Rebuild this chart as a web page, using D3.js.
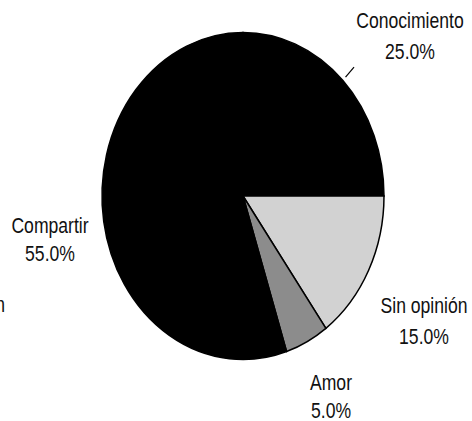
<!DOCTYPE html>
<html>
<head>
<meta charset="utf-8">
<script src="https://cdn.jsdelivr.net/npm/d3@7"></script>
<style>
  body { margin: 0; background: #fff; }
  text { font-family: "Liberation Sans", Arial, sans-serif; font-size: 22px; fill: #111; }
</style>
</head>
<body>
<svg width="472" height="421"></svg>
<script>
// data
var categories = ["Conocimiento", "Sin opinión", "Amor", "Compartir"];
var values = [25.0, 15.0, 5.0, 55.0];
var fills = ["#000", "#d2d2d2", "#8c8c8c", "#000"];

// label anchors: centre x, baseline of name, baseline of percent
var labelPos = [[410, 28, 59], [424, 313, 344], [331, 390, 418], [50, 233, 261]];

var drawChart = function()
{
  var svg = d3.select("svg");
  var cx = 243, cy = 196;
  var radius = 141;
  var squash = 1.16; /* scan is taller than wide */
  var narrow = "scale(0.8,1.03)";  /* Arial Narrow look */

  var pie = d3.pie().sort(null).value(function(d){ return d; });
  var arc = d3.arc().innerRadius(0).outerRadius(radius);

  var g = svg.append("g")
             .attr("transform", "translate(" + cx + "," + cy + ") scale(1," + squash + ")");

  g.selectAll("path")
   .data(pie(values))
   .enter()
   .append("path")
   .attr("d", arc)
   .attr("fill", function(d,i){ return fills[i]; })
   .attr("stroke", "#000")
   .attr("stroke-width", 1.5)
   .attr("vector-effect", "non-scaling-stroke");

  var labels = svg.append("g");

  labels.selectAll("text.name")
        .data(categories)
        .enter()
        .append("text")
        .attr("class", "name")
        .attr("transform", function(d,i){ return "translate(" + labelPos[i][0] + "," + labelPos[i][1] + ") " + narrow; })
        .style("text-anchor", "middle")
        .text(function(d){ return d; });

  labels.selectAll("text.pct")
        .data(values)
        .enter()
        .append("text")
        .attr("class", "pct")
        .attr("transform", function(d,i){ return "translate(" + labelPos[i][0] + "," + labelPos[i][2] + ") " + narrow; })
        .style("text-anchor", "middle")
        .text(function(d){ return d.toFixed(1) + "%"; });

  /*leader tick for Conocimiento*/
  var a = pie(values)[0];
  var mid = (a.startAngle + a.endAngle) / 2;
  svg.append("line")
     .attr("x1", cx + Math.sin(mid) * (radius + 4))
     .attr("y1", cy - Math.cos(mid) * (radius + 4) * squash)
     .attr("x2", cx + Math.sin(mid) * (radius + 16))
     .attr("y2", cy - Math.cos(mid) * (radius + 16) * squash)
     .attr("stroke", "#000")
     .attr("stroke-width", 1.2);

  /*cut-off text from the neighbouring chart*/
  svg.append("text")
     .attr("transform", "translate(5,312) " + narrow)
     .style("text-anchor", "end")
     .text("n");
}

drawChart();
</script>
</body>
</html>
